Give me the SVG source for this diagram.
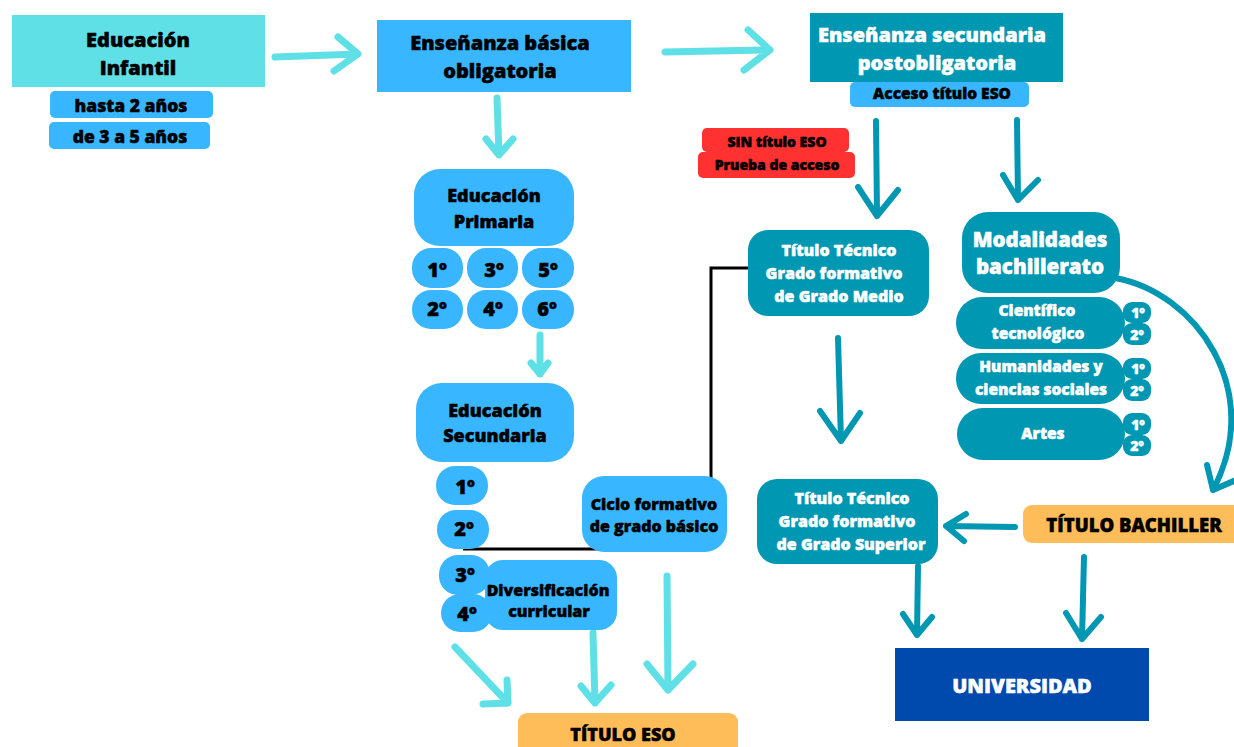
<svg xmlns="http://www.w3.org/2000/svg" width="1234" height="747" viewBox="0 0 1234 747">
<style>
text{font-family:"Open Sans","Liberation Sans",sans-serif;font-weight:800;text-anchor:middle;dominant-baseline:central;stroke-width:0.5;stroke-linejoin:round}
.bk{fill:#000;stroke:#000}
.wh{fill:#fff;stroke:#fff}
.cyan{fill:#5EE0E6}
.blue{fill:#38B6FF}
.teal{fill:#0097B2}
.orange{fill:#FFBD59}
.red{fill:#FF3131}
.navy{fill:#004AAD}
.la{fill:none;stroke:#5EE0E6;stroke-width:7;stroke-linecap:round;stroke-linejoin:round}
.ta{fill:none;stroke:#0097B2;stroke-width:6;stroke-linecap:round;stroke-linejoin:round}
.bl{fill:none;stroke:#000;stroke-width:3}
</style>
<rect width="1234" height="747" fill="#fff"/>
<g id="connectors">
<path class="la" d="M275,57 L358,54 M338,37 L358,54 L334,71"/>
<path class="la" d="M665,52 L770,50 M748,30 L770,50 L744,70"/>
<path class="la" d="M497,98 L499,155 M486,139 L499,155 L513,139"/>
<path class="la" d="M540,335 L540,374 M531,363 L540,374 L548,363"/>
<path class="la" d="M455,647 L508,703 M483,704 L508,703 L507,680"/>
<path class="la" d="M593,633 L595,703 M581,686 L595,703 L611,685"/>
<path class="la" d="M667,576 L668,690 M647,664 L668,690 L693,664"/>
<path class="ta" d="M876,121 L877,216 M858,187 L877,216 L898,190"/>
<path class="ta" d="M1017,120 L1018,200 M1003,175 L1018,200 L1038,180"/>
<path class="ta" d="M838,338 L841,441 M820,411 L841,441 L860,413"/>
<path class="ta" d="M1115,278 C1195,292 1266,390 1213,490 M1207,465 L1213,490 L1236,480"/>
<path class="ta" d="M1015,527 L946,526 M966,514 L946,526 L964,541"/>
<path class="ta" d="M918,566 L917,635 M903,614 L917,635 L932,617"/>
<path class="ta" d="M1084,557 L1082,639 M1066,613 L1082,639 L1101,617"/>
<path class="bl" d="M463,549 L618,549"/>
<path class="bl" d="M711,484 L711,268 L750,268"/>
</g>
<g id="educacion-infantil">
<rect class="cyan" x="12" y="15" width="253" height="72"/>
<text class="bk" x="138" y="39" font-size="20">Educación</text>
<text class="bk" x="138" y="67" font-size="20">Infantil</text>
</g>
<g id="hasta-2">
<rect class="blue" x="50" y="91" width="163" height="27" rx="5"/>
<text class="bk" x="131" y="105" font-size="17.5">hasta 2 años</text>
</g>
<g id="de-3-a-5">
<rect class="blue" x="49" y="122" width="161" height="27" rx="5"/>
<text class="bk" x="130" y="136" font-size="17.5">de 3 a 5 años</text>
</g>
<g id="basica">
<rect class="blue" x="377" y="20" width="254" height="72"/>
<text class="bk" x="500" y="42" font-size="20">Enseñanza básica</text>
<text class="bk" x="500" y="70" font-size="20">obligatoria</text>
</g>
<g id="postobligatoria">
<rect class="teal" x="810" y="13" width="253" height="69"/>
<text class="wh" x="932" y="34" font-size="20">Enseñanza secundaria</text>
<text class="wh" x="937" y="62" font-size="20">postobligatoria</text>
</g>
<g id="acceso-eso">
<rect class="blue" x="850" y="82" width="179" height="25" rx="5"/>
<text class="bk" x="942" y="93" font-size="15.5">Acceso título ESO</text>
</g>
<g id="sin-titulo">
<rect class="red" x="702" y="128" width="147" height="24" rx="5"/>
<text class="bk" x="777" y="141" font-size="14">SIN título ESO</text>
</g>
<g id="prueba-acceso">
<rect class="red" x="698" y="152" width="157" height="26" rx="5"/>
<text class="bk" x="777" y="164" font-size="14">Prueba de acceso</text>
</g>
<g id="primaria">
<rect class="blue" x="414" y="169" width="160" height="77" rx="26"/>
<text class="bk" x="494" y="195" font-size="18">Educación</text>
<text class="bk" x="494" y="221" font-size="18">Primaria</text>
</g>
<g id="p1"><rect class="blue" x="412" y="248" width="51" height="40" rx="19"/><text class="bk" x="437" y="269" font-size="20">1º</text></g>
<g id="p3"><rect class="blue" x="467" y="248" width="51" height="40" rx="19"/><text class="bk" x="494" y="269" font-size="20">3º</text></g>
<g id="p5"><rect class="blue" x="522" y="248" width="52" height="40" rx="19"/><text class="bk" x="548" y="269" font-size="20">5º</text></g>
<g id="p2"><rect class="blue" x="412" y="290" width="51" height="39" rx="19"/><text class="bk" x="437" y="308" font-size="20">2º</text></g>
<g id="p4"><rect class="blue" x="467" y="290" width="51" height="39" rx="19"/><text class="bk" x="493" y="308" font-size="20">4º</text></g>
<g id="p6"><rect class="blue" x="522" y="290" width="52" height="39" rx="19"/><text class="bk" x="547" y="308" font-size="20">6º</text></g>
<g id="secundaria">
<rect class="blue" x="416" y="383" width="158" height="79" rx="26"/>
<text class="bk" x="495" y="410" font-size="18">Educación</text>
<text class="bk" x="495" y="435" font-size="18">Secundaria</text>
</g>
<g id="s1"><rect class="blue" x="436" y="466" width="52" height="39" rx="19"/><text class="bk" x="465" y="486" font-size="20">1º</text></g>
<g id="s2"><rect class="blue" x="437" y="510" width="52" height="39" rx="19"/><text class="bk" x="464" y="528" font-size="20">2º</text></g>
<g id="diversificacion">
<rect class="blue" x="485" y="560" width="132" height="70" rx="18"/>
<text class="bk" x="548" y="590" font-size="16">Diversificación</text>
<text class="bk" x="549" y="611" font-size="16">curricular</text>
</g>
<g id="s3"><rect class="blue" x="439" y="555" width="51" height="40" rx="19"/><text class="bk" x="465" y="574" font-size="20">3º</text></g>
<g id="s4"><rect class="blue" x="441" y="594" width="51" height="38" rx="19"/><text class="bk" x="467" y="613" font-size="20">4º</text></g>
<g id="ciclo-basico">
<rect class="blue" x="582" y="476" width="145" height="76" rx="22"/>
<text class="bk" x="654" y="504" font-size="16">Ciclo formativo</text>
<text class="bk" x="654" y="526" font-size="16">de grado básico</text>
</g>
<g id="titulo-eso">
<rect class="orange" x="518" y="713" width="220" height="44" rx="9"/>
<text class="bk" x="623" y="734" font-size="18">TÍTULO ESO</text>
</g>
<g id="grado-medio">
<rect class="teal" x="748" y="230" width="181" height="86" rx="20"/>
<text class="wh" x="839" y="250" font-size="16">Título Técnico</text>
<text class="wh" x="834" y="273" font-size="16">Grado formativo</text>
<text class="wh" x="839" y="296" font-size="16">de Grado Medio</text>
</g>
<g id="modalidades">
<rect class="teal" x="962" y="212" width="158" height="81" rx="26"/>
<text class="wh" x="1040" y="239" font-size="20.5">Modalidades</text>
<text class="wh" x="1040" y="266" font-size="20.5">bachillerato</text>
</g>
<g id="cientifico">
<rect class="teal" x="956" y="297" width="169" height="52" rx="26"/>
<text class="wh" x="1037" y="310" font-size="15.5">Científico</text>
<text class="wh" x="1038" y="333" font-size="15.5">tecnológico</text>
<rect class="teal" x="1123" y="302" width="28" height="21" rx="9"/>
<rect class="teal" x="1123" y="323" width="28" height="22" rx="9"/>
<text class="wh" x="1138" y="312" font-size="14">1º</text>
<text class="wh" x="1137" y="334" font-size="14">2º</text>
</g>
<g id="humanidades">
<rect class="teal" x="956" y="353" width="169" height="51" rx="25"/>
<text class="wh" x="1041" y="366" font-size="15.5">Humanidades y</text>
<text class="wh" x="1041" y="389" font-size="15.5">ciencias sociales</text>
<rect class="teal" x="1123" y="358" width="28" height="21" rx="9"/>
<rect class="teal" x="1123" y="379" width="28" height="22" rx="9"/>
<text class="wh" x="1138" y="368" font-size="14">1º</text>
<text class="wh" x="1137" y="390" font-size="14">2º</text>
</g>
<g id="artes">
<rect class="teal" x="957" y="408" width="168" height="52" rx="26"/>
<text class="wh" x="1043" y="433" font-size="15.5">Artes</text>
<rect class="teal" x="1123" y="413" width="28" height="22" rx="9"/>
<rect class="teal" x="1123" y="435" width="28" height="21" rx="9"/>
<text class="wh" x="1138" y="424" font-size="14">1º</text>
<text class="wh" x="1137" y="445" font-size="14">2º</text>
</g>
<g id="titulo-bachiller">
<rect class="orange" x="1023" y="505" width="221" height="38" rx="9"/>
<text class="bk" x="1134" y="524" font-size="18.5">TÍTULO BACHILLER</text>
</g>
<g id="grado-superior">
<rect class="teal" x="757" y="479" width="181" height="85" rx="20"/>
<text class="wh" x="852" y="498" font-size="16">Título Técnico</text>
<text class="wh" x="847" y="521" font-size="16">Grado formativo</text>
<text class="wh" x="851" y="544" font-size="16">de Grado Superior</text>
</g>
<g id="universidad">
<rect class="navy" x="895" y="648" width="254" height="73"/>
<text class="wh" x="1022" y="685" font-size="20">UNIVERSIDAD</text>
</g>
</svg>
